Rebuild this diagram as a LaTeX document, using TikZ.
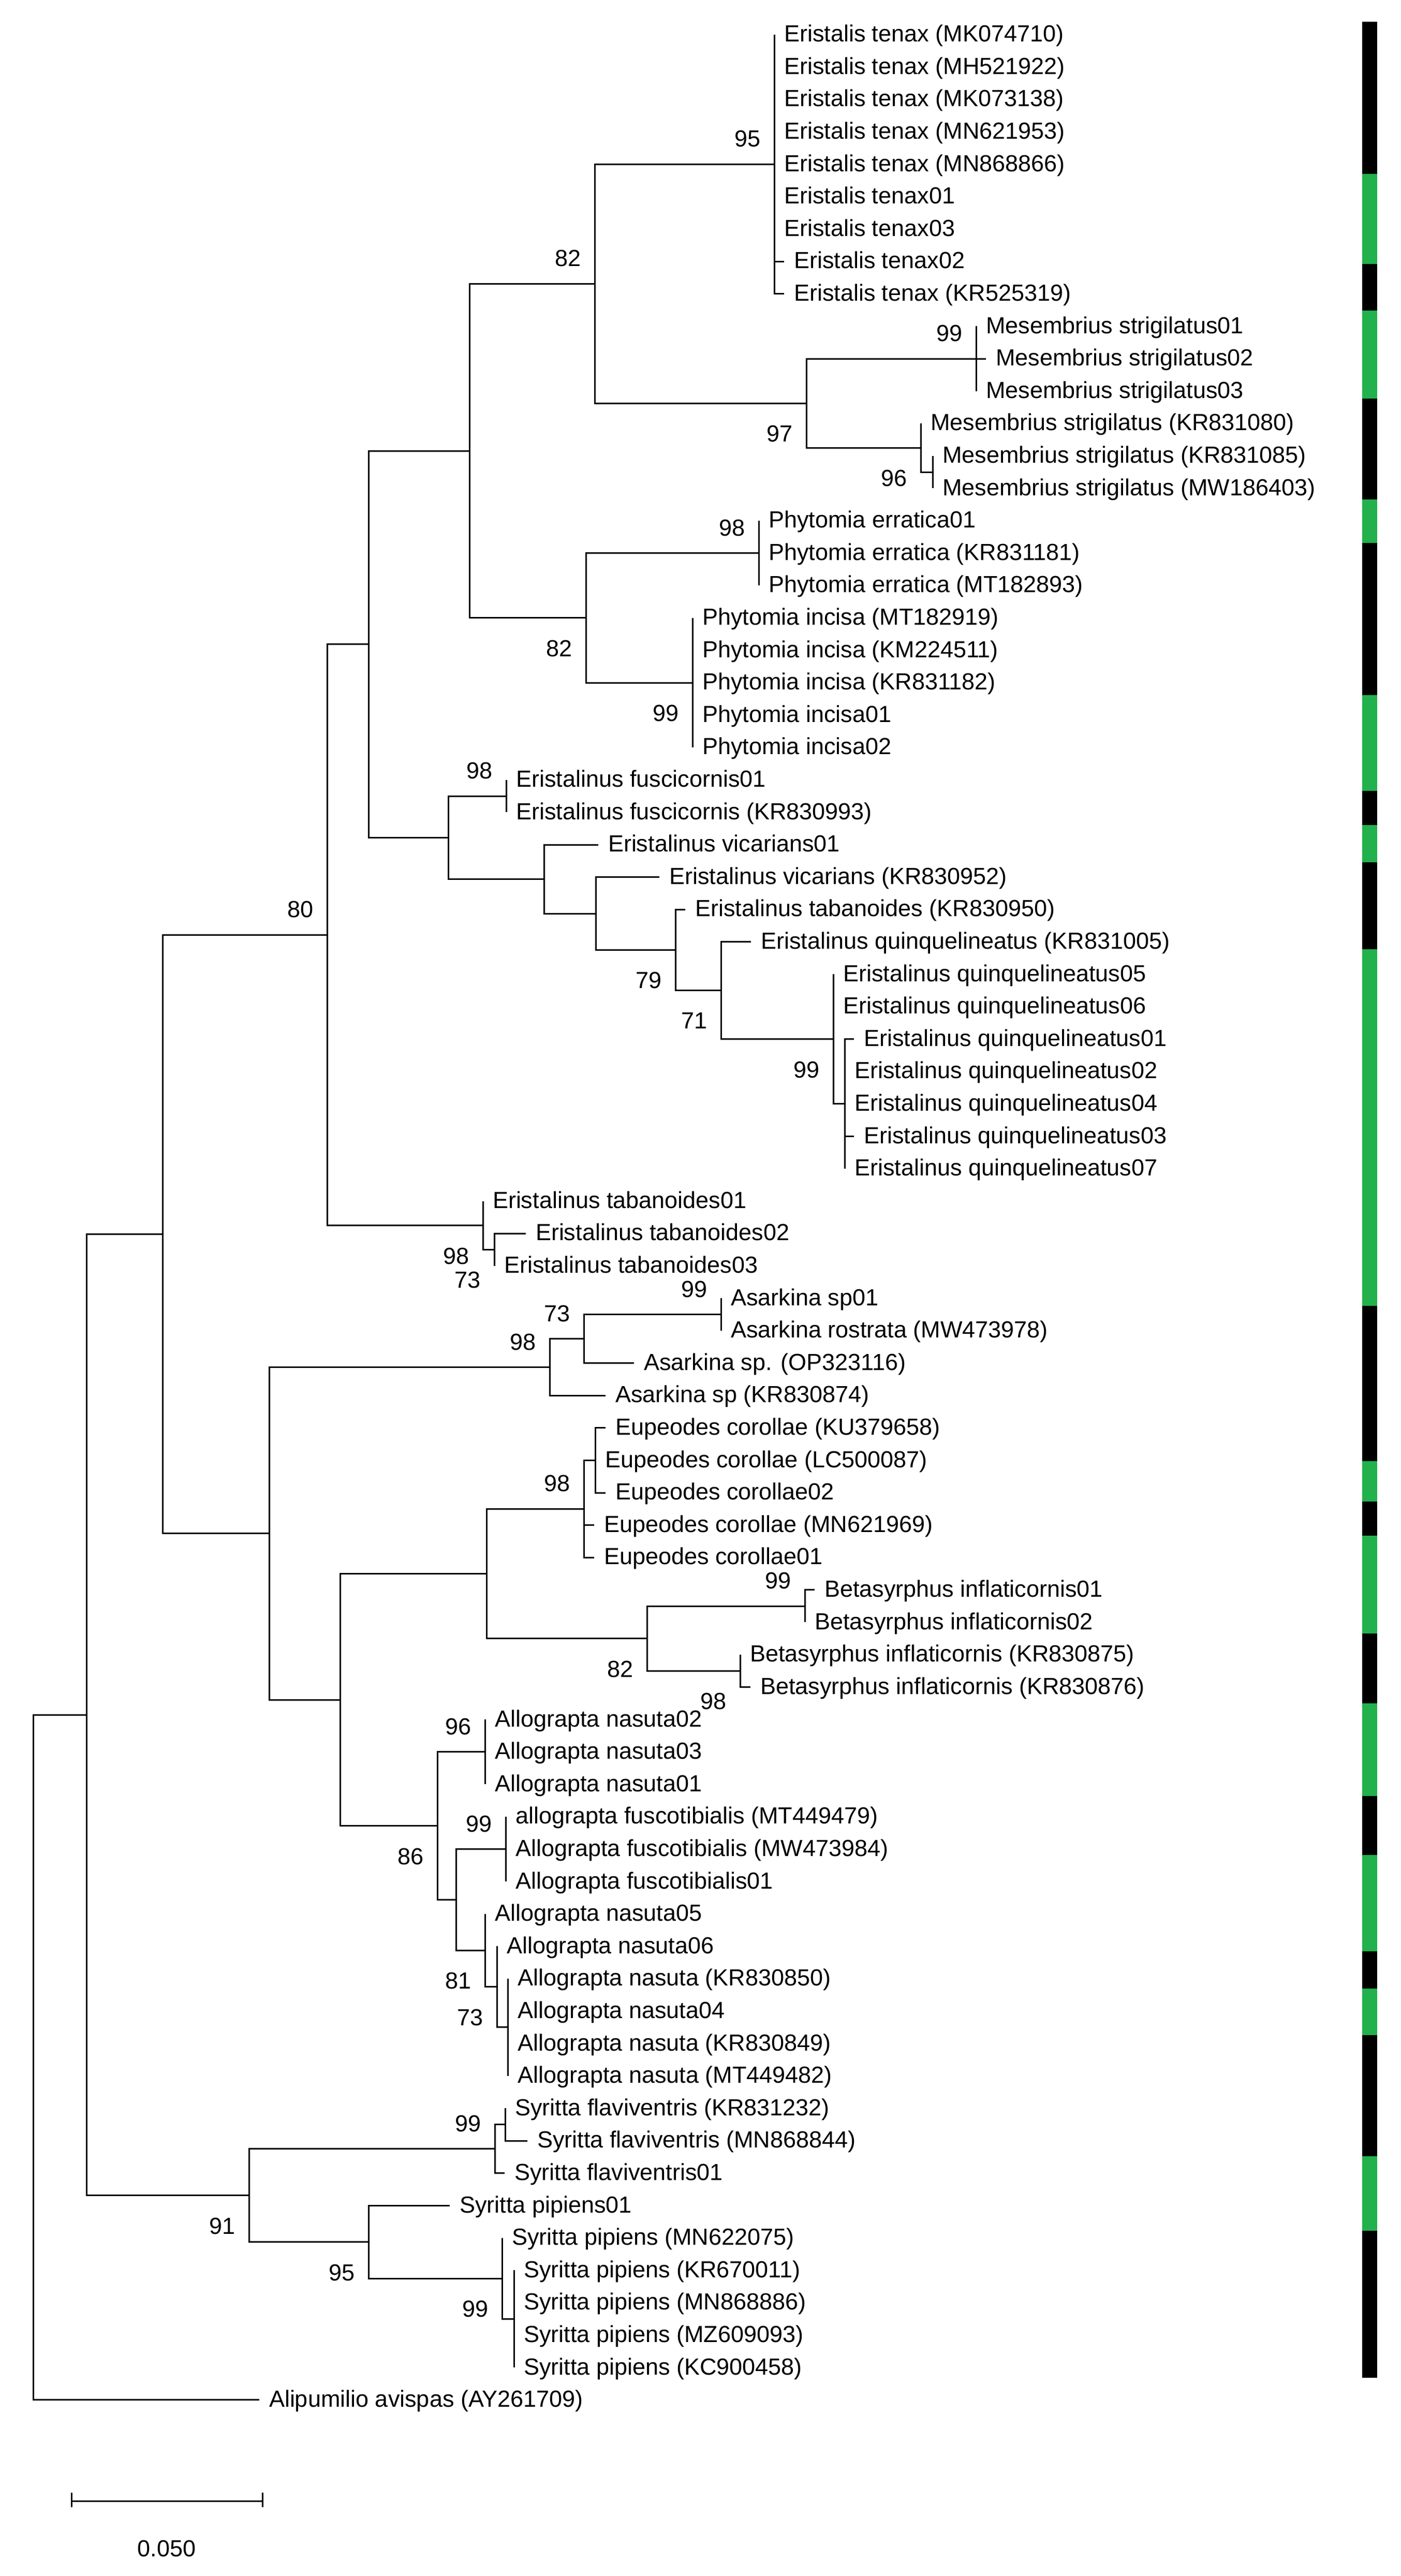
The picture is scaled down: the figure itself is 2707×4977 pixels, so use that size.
\documentclass[tikz,border=0pt]{standalone}
\usepackage{fontspec}
\setmainfont{Liberation Sans}
\usetikzlibrary{positioning}
\definecolor{barGreen}{RGB}{34,177,76}

\begin{document}
\begin{tikzpicture}[x=0.2pt, y=-0.2pt,
    font=\fontsize{9}{11}\selectfont,
    branch/.style={line width=0.6pt},
    leaf/.style={anchor=west, inner sep=0pt, text height=0.75em, text depth=0.2em},
    bsup/.style={anchor=south east, inner sep=0pt, xshift=-5pt, yshift=6.4pt},
    bsdown/.style={anchor=north east, inner sep=0pt, xshift=-5pt, yshift=-8.4pt}]
    \useasboundingbox (0,0) rectangle (2707,4977);

    % Leaves: branch tip and taxon name
    \foreach \n/\x/\lab in {
        1/1496/{Eristalis tenax (MK074710)}, 2/1496/{Eristalis tenax (MH521922)},
        3/1496/{Eristalis tenax (MK073138)}, 4/1496/{Eristalis tenax (MN621953)},
        5/1496/{Eristalis tenax (MN868866)}, 6/1496/{Eristalis tenax01},
        7/1496/{Eristalis tenax03}, 8/1515/{Eristalis tenax02},
        9/1515/{Eristalis tenax (KR525319)},
        10/1886/{Mesembrius strigilatus01}, 11/1905/{Mesembrius strigilatus02},
        12/1886/{Mesembrius strigilatus03}, 13/1779/{Mesembrius strigilatus (KR831080)},
        14/1802/{Mesembrius strigilatus (KR831085)}, 15/1802/{Mesembrius strigilatus (MW186403)},
        16/1466/{Phytomia erratica01}, 17/1466/{Phytomia erratica (KR831181)},
        18/1466/{Phytomia erratica (MT182893)},
        19/1338/{Phytomia incisa (MT182919)}, 20/1338/{Phytomia incisa (KM224511)},
        21/1338/{Phytomia incisa (KR831182)}, 22/1338/{Phytomia incisa01},
        23/1338/{Phytomia incisa02},
        24/978/{Eristalinus fuscicornis01}, 25/978/{Eristalinus fuscicornis (KR830993)},
        26/1156/{Eristalinus vicarians01}, 27/1274/{Eristalinus vicarians (KR830952)},
        28/1324/{Eristalinus tabanoides (KR830950)},
        29/1451/{Eristalinus quinquelineatus (KR831005)},
        30/1610/{Eristalinus quinquelineatus05}, 31/1610/{Eristalinus quinquelineatus06},
        32/1650/{Eristalinus quinquelineatus01}, 33/1632/{Eristalinus quinquelineatus02},
        34/1632/{Eristalinus quinquelineatus04}, 35/1650/{Eristalinus quinquelineatus03},
        36/1632/{Eristalinus quinquelineatus07},
        37/933/{Eristalinus tabanoides01}, 38/1016/{Eristalinus tabanoides02},
        39/955/{Eristalinus tabanoides03},
        40/1393/{Asarkina sp01}, 41/1393/{Asarkina rostrata (MW473978)},
        42/1225/{Asarkina sp. (OP323116)}, 43/1170/{Asarkina sp (KR830874)},
        44/1170/{Eupeodes corollae (KU379658)}, 45/1150/{Eupeodes corollae (LC500087)},
        46/1170/{Eupeodes corollae02}, 47/1148/{Eupeodes corollae (MN621969)},
        48/1148/{Eupeodes corollae01},
        49/1574/{Betasyrphus inflaticornis01}, 50/1555/{Betasyrphus inflaticornis02},
        51/1430/{Betasyrphus inflaticornis (KR830875)}, 52/1450/{Betasyrphus inflaticornis (KR830876)},
        53/937/{Allograpta nasuta02}, 54/937/{Allograpta nasuta03},
        55/937/{Allograpta nasuta01},
        56/977/{allograpta fuscotibialis (MT449479)}, 57/977/{Allograpta fuscotibialis (MW473984)},
        58/977/{Allograpta fuscotibialis01},
        59/937/{Allograpta nasuta05}, 60/960/{Allograpta nasuta06},
        61/981/{Allograpta nasuta (KR830850)}, 62/981/{Allograpta nasuta04},
        63/981/{Allograpta nasuta (KR830849)}, 64/981/{Allograpta nasuta (MT449482)},
        65/976/{Syritta flaviventris (KR831232)}, 66/1019/{Syritta flaviventris (MN868844)},
        67/975/{Syritta flaviventris01},
        68/869/{Syritta pipiens01}, 69/970/{Syritta pipiens (MN622075)},
        70/993/{Syritta pipiens (KR670011)}, 71/993/{Syritta pipiens (MN868886)},
        72/993/{Syritta pipiens (MZ609093)}, 73/993/{Syritta pipiens (KC900458)},
        74/501/{Alipumilio avispas (AY261709)}} {
        \coordinate (l\n) at (\x, {67+(\n-1)*62.6});
        \node[leaf] (t\n) at ({\x+18}, {67+(\n-1)*62.6}) {\lab};
    }

    % Internal nodes
    \foreach \nd/\x/\y in {
        nE/1496/317.4, nM1/1886/693, nM3/1802/912.1, nM2/1779/865.15,
        nM/1558/779.1, nEM/1149/548.2, nPe/1466/1068.6, nPi/1338/1319,
        nP/1132/1193.8, nEMP/907/871, nFu/978/1538.1, nQ2/1632/2132.8,
        nQ/1610/2007.6, n71/1393/1913.7, n79/1305/1835.45, nV2/1151/1765,
        nV/1051/1698.5, nEr/866/1618.3, nA/712/1244.65, nT2/955/2414.5,
        nT/933/2367.55, n80/632/1806.1, nAs1/1393/2539.7, nAs2/1128/2586.65,
        nAs/1062/2641.4, nEu1/1150/2821.4, nEu/1128/2915.3, nB1/1555/3103.1,
        nB2/1430/3228.3, nB/1250/3165.7, nEB/940/3040.5, nAn1/937/3384.8,
        nAf/977/3572.6, nAn4/981/3916.9, nAn3/960/3838.65, nAn2/937/3768.2,
        nAfn/881/3670.4, n86/845/3527.6, nEBA/657/3284.05, nLow/520/2962.7,
        nUp/314/2384.4, nSf2/976/4104.7, nSf/956/4151.65, nSp2/993/4480.3,
        nSp1/970/4402.05, nSp/712/4331.6, n91/481/4241.6, nIn/167/3313,
        root/64/3974.9} {
        \coordinate (\nd) at (\x, \y);
    }

    % Branches, parent to children
    \foreach \pa/\kids in {
        nE/{l1,l2,l3,l4,l5,l6,l7,l8,l9}, nM1/{l10,l11,l12}, nM3/{l14,l15},
        nM2/{l13,nM3}, nM/{nM1,nM2}, nEM/{nE,nM}, nPe/{l16,l17,l18},
        nPi/{l19,l20,l21,l22,l23}, nP/{nPe,nPi}, nEMP/{nEM,nP},
        nFu/{l24,l25}, nQ2/{l32,l33,l34,l35,l36}, nQ/{l30,l31,nQ2},
        n71/{l29,nQ}, n79/{l28,n71}, nV2/{l27,n79}, nV/{l26,nV2},
        nEr/{nFu,nV}, nA/{nEMP,nEr}, nT2/{l38,l39}, nT/{l37,nT2},
        n80/{nA,nT}, nAs1/{l40,l41}, nAs2/{nAs1,l42}, nAs/{nAs2,l43},
        nEu1/{l44,l45,l46}, nEu/{nEu1,l47,l48}, nB1/{l49,l50}, nB2/{l51,l52},
        nB/{nB1,nB2}, nEB/{nEu,nB}, nAn1/{l53,l54,l55}, nAf/{l56,l57,l58},
        nAn4/{l61,l62,l63,l64}, nAn3/{l60,nAn4}, nAn2/{l59,nAn3},
        nAfn/{nAf,nAn2}, n86/{nAn1,nAfn}, nEBA/{nEB,n86}, nLow/{nAs,nEBA},
        nUp/{n80,nLow}, nSf2/{l65,l66}, nSf/{nSf2,l67}, nSp2/{l70,l71,l72,l73},
        nSp1/{l69,nSp2}, nSp/{l68,nSp1}, n91/{nSf,nSp}, nIn/{nUp,n91},
        root/{nIn,l74}} {
        \foreach \ch in \kids {
            \draw[branch] (\pa) |- (\ch);
        }
    }

    % Bootstrap values
    \foreach \nd/\v in {nE/95, nEM/82, nM1/99, nPe/98, nFu/98, n80/80,
        nAs1/99, nAs2/73, nAs/98, nEu/98, nB1/99, nAn1/96, nAf/99, nSf/99} {
        \node[bsup] (b\nd) at (\nd) {\v};
    }
    \foreach \nd/\v in {nM/97, nM2/96, nP/82, nPi/99, n79/79, n71/71, nQ/99,
        nT/98, nT2/73, nB/82, nB2/98, n86/86, nAn2/81, nAn3/73,
        n91/91, nSp/95, nSp1/99} {
        \node[bsdown] (b\nd) at (\nd) {\v};
    }

    % Scale bar
    \coordinate (sbL) at (138,4832);
    \coordinate (sbR) at (507,4832);
    \draw[branch] (sbL) -- (sbR);
    \draw[branch] (sbL) ++(0,-16) -- ++(0,28);
    \draw[branch] (sbR) ++(0,-16) -- ++(0,28);
    \node (sbLab) at (322,4924) {0.050};

    % Sample bar (black / green)
    \foreach \ya/\yb/\col in {42/336/black, 336/510/barGreen, 510/600/black,
        600/770/barGreen, 770/965/black, 965/1049/barGreen, 1049/1343/black,
        1343/1528/barGreen, 1528/1594/black, 1594/1666/barGreen, 1666/1834/black,
        1834/2523/barGreen, 2523/2823/black, 2823/2901/barGreen, 2901/2967/black,
        2967/3156/barGreen, 3156/3291/black, 3291/3470/barGreen, 3470/3584/black,
        3584/3770/barGreen, 3770/3842/black, 3842/3932/barGreen, 3932/4166/black,
        4166/4310/barGreen, 4310/4594/black} {
        \fill[\col] (2632,\ya) rectangle (2661,\yb);
    }
\end{tikzpicture}
\end{document}
